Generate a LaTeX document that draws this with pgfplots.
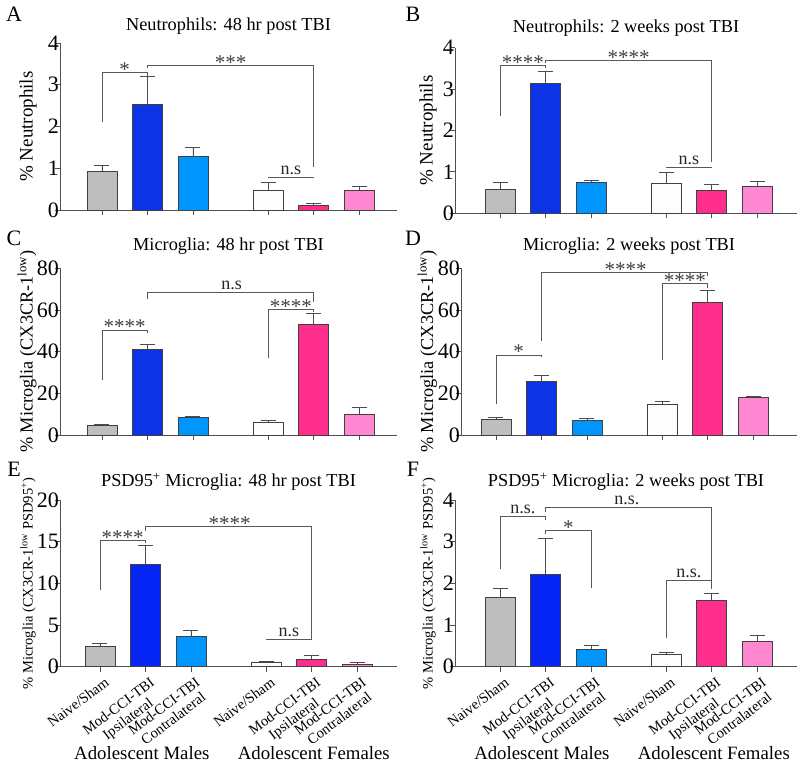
\documentclass[border=0pt]{standalone}
\usepackage{fontspec}
\setmainfont{Liberation Serif}
\usepackage{pgfplots}
\pgfplotsset{compat=1.18}
\newcommand{\fs}[1]{\fontsize{#1}{#1}\selectfont}
\definecolor{cgray}{RGB}{190,190,190}
\definecolor{cblue}{RGB}{12,52,228}
\definecolor{cblueE}{RGB}{6,38,245}
\definecolor{clblue}{RGB}{0,150,255}
\definecolor{cwhite}{RGB}{253,253,253}
\definecolor{cpink}{RGB}{255,45,140}
\definecolor{clpink}{RGB}{255,135,210}
\definecolor{axc}{RGB}{80,80,80}
\pgfplotsset{
  panel/.style={
    scale only axis, clip=false,
    axis x line*=bottom, axis y line*=left,
    axis line style={axc, line width=0.9pt},
    tick style={axc, line width=0.9pt},
    tick align=outside, major tick length=5pt,
    xtick={1,2,3,4.65,5.65,6.65}, xticklabels={},
    ymin=0,
    /pgf/number format/assume math mode=true,
    yticklabel style={font=\fs{22}, inner xsep=1pt, xshift=5pt},
    title style={at={(axis description cs:0.5,1)}, anchor=center, font=\fs{18.3}},
    ylabel style={anchor=center},
  },
  gbar/.style={ybar, bar shift=0pt, bar width=0.66, draw=black!75, line width=0.7pt,
    error bars/y dir=plus, error bars/y explicit,
    error bars/error mark=|,
    error bars/error bar style={black!70, line width=0.9pt},
    error bars/error mark options={black!70, line width=0.9pt, mark size=7.5pt}},
  rotlabels/.style={
    xticklabels={Naive/Sham,{Mod-CCI-TBI\\Ipsilateral},{Mod-CCI-TBI\\Contralateral},Naive/Sham,{Mod-CCI-TBI\\Ipsilateral},{Mod-CCI-TBI\\Contralateral}},
    xticklabel style={xshift=4pt, yshift=-3pt, rotate=37, anchor=north east, align=center, font=\fontsize{14.6}{15.5}\selectfont, inner sep=1pt},
  },
}
\tikzset{
  brk/.style={black!65, line width=0.9pt},
  star/.style={anchor=base, yshift=-4pt, font=\fs{21}, text=black!75, inner sep=0pt},
  ns/.style={anchor=base, yshift=3pt, font=\fs{18}, text=black!85, inner sep=0pt},
  grp/.style={anchor=base, font=\fs{18.8}},
  letter/.style={font=\fs{22}},
}
\begin{document}
\begin{tikzpicture}
\path[use as bounding box] (0,0) rectangle (800pt,767pt);

% ---------------- A
\begin{axis}[panel, at={(60pt,557pt)}, anchor=south west, width=337pt, height=167pt,
  xmin=0.077, xmax=7.484, ymax=4, ytick={0,1,2,3,4},
  title={Neutrophils: 48 hr post TBI}, title style={yshift=11pt},
  ylabel={\fs{19}\% Neutrophils}, ylabel style={at={(axis description cs:-0.095,0.5)}}]
\addplot[gbar, fill=cgray] coordinates {(1,0.93) +- (0,0.13)};
\addplot[gbar, fill=cblue] coordinates {(2,2.54) +- (0,0.65)};
\addplot[gbar, fill=clblue] coordinates {(3,1.29) +- (0,0.21)};
\addplot[gbar, fill=cwhite] coordinates {(4.65,0.47) +- (0,0.20)};
\addplot[gbar, fill=cpink] coordinates {(5.65,0.10) +- (0,0.05)};
\addplot[gbar, fill=clpink] coordinates {(6.65,0.47) +- (0,0.10)};
\draw[brk] (axis cs:1,2.11) -- (axis cs:1,3.30) -- (axis cs:2,3.30) -- (axis cs:2,3.22);
\draw[brk] (axis cs:2,3.39) -- (axis cs:2,3.47) -- (axis cs:5.65,3.47) -- (axis cs:5.65,1.04);
\draw[brk] (axis cs:4.65,0.78) -- (axis cs:5.65,0.78);
\node[star] at (axis cs:1.5,3.30) {*};
\node[star] at (axis cs:3.825,3.47) {***};
\node[ns] at (axis cs:5.15,0.78) {n.s};
\end{axis}

% ---------------- B
\begin{axis}[panel, at={(455pt,553.7pt)}, anchor=south west, width=342pt, height=165.6pt,
  xmin=0.011, xmax=7.527, ymax=4, ytick={0,1,2,3,4},
  title={Neutrophils: 2 weeks post TBI}, title style={yshift=14pt},
  ylabel={\fs{19}\% Neutrophils}, ylabel style={at={(axis description cs:-0.079,0.5)}}]
\addplot[gbar, fill=cgray] coordinates {(1,0.59) +- (0,0.15)};
\addplot[gbar, fill=cblue] coordinates {(2,3.14) +- (0,0.28)};
\addplot[gbar, fill=clblue] coordinates {(3,0.75) +- (0,0.05)};
\addplot[gbar, fill=cwhite] coordinates {(4.65,0.72) +- (0,0.26)};
\addplot[gbar, fill=cpink] coordinates {(5.65,0.56) +- (0,0.14)};
\addplot[gbar, fill=clpink] coordinates {(6.65,0.66) +- (0,0.10)};
\draw[brk] (axis cs:1,2.36) -- (axis cs:1,3.57) -- (axis cs:2,3.57) -- (axis cs:2,3.50);
\draw[brk] (axis cs:2,3.62) -- (axis cs:2,3.70) -- (axis cs:5.65,3.70) -- (axis cs:5.65,1.23);
\draw[brk] (axis cs:4.65,1.10) -- (axis cs:5.65,1.10);
\node[star] at (axis cs:1.5,3.57) {****};
\node[star] at (axis cs:3.825,3.70) {****};
\node[ns] at (axis cs:5.15,1.10) {n.s};
\end{axis}

% ---------------- C
\begin{axis}[panel, at={(60pt,332pt)}, anchor=south west, width=337pt, height=166.7pt,
  xmin=0.077, xmax=7.484, ymax=80, ytick={0,20,40,60,80},
  title={Microglia: 48 hr post TBI}, title style={yshift=15.8pt},
  ylabel={\fs{18.3}\% Microglia (CX3CR-1\textsuperscript{low})}, ylabel style={at={(axis description cs:-0.098,0.5)}}]
\addplot[gbar, fill=cgray] coordinates {(1,4.5) +- (0,0.4)};
\addplot[gbar, fill=cblue] coordinates {(2,41.3) +- (0,2.2)};
\addplot[gbar, fill=clblue] coordinates {(3,8.3) +- (0,0.5)};
\addplot[gbar, fill=cwhite] coordinates {(4.65,6.1) +- (0,1.1)};
\addplot[gbar, fill=cpink] coordinates {(5.65,53.1) +- (0,5.0)};
\addplot[gbar, fill=clpink] coordinates {(6.65,10.1) +- (0,2.9)};
\draw[brk] (axis cs:1,26.4) -- (axis cs:1,50.4) -- (axis cs:2,50.4) -- (axis cs:2,48.8);
\draw[brk] (axis cs:2,65.1) -- (axis cs:2,68.3) -- (axis cs:5.65,68.3) -- (axis cs:5.65,64.0);
\draw[brk] (axis cs:4.65,36.8) -- (axis cs:4.65,60.3) -- (axis cs:5.65,60.3) -- (axis cs:5.65,58.8);
\node[star] at (axis cs:1.5,50.4) {****};
\node[ns] at (axis cs:3.85,68.3) {n.s};
\node[star] at (axis cs:5.15,60.3) {****};
\end{axis}

% ---------------- D
\begin{axis}[panel, at={(461pt,332pt)}, anchor=south west, width=336pt, height=166.7pt,
  xmin=0.231, xmax=7.616, ymax=80, ytick={0,20,40,60,80},
  title={Microglia: 2 weeks post TBI}, title style={yshift=15.8pt},
  ylabel={\fs{18.3}\% Microglia (CX3CR-1\textsuperscript{low})}, ylabel style={at={(axis description cs:-0.10,0.5)}}]
\addplot[gbar, fill=cgray] coordinates {(1,7.5) +- (0,0.8)};
\addplot[gbar, fill=cblue] coordinates {(2,25.6) +- (0,2.9)};
\addplot[gbar, fill=clblue] coordinates {(3,7.0) +- (0,0.7)};
\addplot[gbar, fill=cwhite] coordinates {(4.65,14.7) +- (0,1.6)};
\addplot[gbar, fill=cpink] coordinates {(5.65,63.7) +- (0,5.6)};
\addplot[gbar, fill=clpink] coordinates {(6.65,18.2) +- (0,0.4)};
\draw[brk] (axis cs:1,14.7) -- (axis cs:1,38.4) -- (axis cs:2,38.4) -- (axis cs:2,37.6);
\draw[brk] (axis cs:2,45.3) -- (axis cs:2,78.2) -- (axis cs:5.65,78.2) -- (axis cs:5.65,76.5);
\draw[brk] (axis cs:4.65,36) -- (axis cs:4.65,72.5) -- (axis cs:5.65,72.5) -- (axis cs:5.65,70.4);
\node[star] at (axis cs:1.5,38.4) {*};
\node[star] at (axis cs:3.85,78.2) {****};
\node[star] at (axis cs:5.15,72.5) {****};
\end{axis}

% ---------------- E
\begin{axis}[panel, rotlabels, at={(60pt,100.3pt)}, anchor=south west, width=337pt, height=166.7pt,
  xmin=0.121, xmax=7.528, ymax=20, ytick={0,5,10,15,20},
  title={PSD95\textsuperscript{+} Microglia: 48 hr post TBI}, title style={yshift=12pt},
  ylabel={\fs{14.5}\% Microglia (CX3CR-1\textsuperscript{low} PSD95\textsuperscript{+})}, ylabel style={at={(axis description cs:-0.095,0.5)}}]
\addplot[gbar, fill=cgray] coordinates {(1,2.4) +- (0,0.4)};
\addplot[gbar, fill=cblueE] coordinates {(2,12.3) +- (0,2.2)};
\addplot[gbar, fill=clblue] coordinates {(3,3.7) +- (0,0.7)};
\addplot[gbar, fill=cwhite] coordinates {(4.65,0.5) +- (0,0.1)};
\addplot[gbar, fill=cpink] coordinates {(5.65,0.9) +- (0,0.4)};
\addplot[gbar, fill=clpink] coordinates {(6.65,0.3) +- (0,0.2)};
\draw[brk] (axis cs:1,9.2) -- (axis cs:1,15.1) -- (axis cs:2,15.1) -- (axis cs:2,14.8);
\draw[brk] (axis cs:2,16.3) -- (axis cs:2,16.8) -- (axis cs:5.65,16.8) -- (axis cs:5.65,3.2);
\draw[brk] (axis cs:4.65,3.28) -- (axis cs:5.65,3.28);
\node[star] at (axis cs:1.5,15.1) {****};
\node[star] at (axis cs:3.85,16.8) {****};
\node[ns] at (axis cs:5.15,3.28) {n.s};
\node[grp] at (axis cs:1.92,0) [yshift=-93pt] {Adolescent Males};
\node[grp] at (axis cs:5.70,0) [yshift=-93pt] {Adolescent Females};
\end{axis}

% ---------------- F
\begin{axis}[panel, rotlabels, at={(455pt,100.3pt)}, anchor=south west, width=342pt, height=166.7pt,
  xmin=0.011, xmax=7.527, ymax=4, ytick={0,1,2,3,4},
  title={PSD95\textsuperscript{+} Microglia: 2 weeks post TBI}, title style={yshift=12pt},
  ylabel={\fs{14.5}\% Microglia (CX3CR-1\textsuperscript{low} PSD95\textsuperscript{+})}, ylabel style={at={(axis description cs:-0.079,0.5)}}]
\addplot[gbar, fill=cgray] coordinates {(1,1.66) +- (0,0.22)};
\addplot[gbar, fill=cblueE] coordinates {(2,2.22) +- (0,0.86)};
\addplot[gbar, fill=clblue] coordinates {(3,0.42) +- (0,0.08)};
\addplot[gbar, fill=cwhite] coordinates {(4.65,0.30) +- (0,0.05)};
\addplot[gbar, fill=cpink] coordinates {(5.65,1.60) +- (0,0.16)};
\addplot[gbar, fill=clpink] coordinates {(6.65,0.60) +- (0,0.14)};
\draw[brk] (axis cs:1,2.34) -- (axis cs:1,3.60) -- (axis cs:2,3.60) -- (axis cs:2,3.52);
\draw[brk] (axis cs:2,3.72) -- (axis cs:2,3.82) -- (axis cs:5.65,3.82) -- (axis cs:5.65,1.86);
\draw[brk] (axis cs:2,3.18) -- (axis cs:2,3.28) -- (axis cs:3,3.28) -- (axis cs:3,1.88);
\draw[brk] (axis cs:4.65,0.68) -- (axis cs:4.65,2.08) -- (axis cs:5.65,2.08) -- (axis cs:5.65,2.00);
\node[ns] at (axis cs:1.5,3.60) {n.s.};
\node[ns] at (axis cs:3.79,3.82) {n.s.};
\node[star] at (axis cs:2.5,3.28) {*};
\node[ns] at (axis cs:5.15,2.08) {n.s.};
\node[grp] at (axis cs:1.92,0) [yshift=-93pt] {Adolescent Males};
\node[grp] at (axis cs:5.70,0) [yshift=-93pt] {Adolescent Females};
\end{axis}

% panel letters
\node[letter] at (14pt,753pt) {A};
\node[letter] at (413pt,753pt) {B};
\node[letter] at (14pt,529pt) {C};
\node[letter] at (413pt,529pt) {D};
\node[letter] at (14pt,298pt) {E};
\node[letter] at (413pt,298pt) {F};
\end{tikzpicture}
\end{document}
